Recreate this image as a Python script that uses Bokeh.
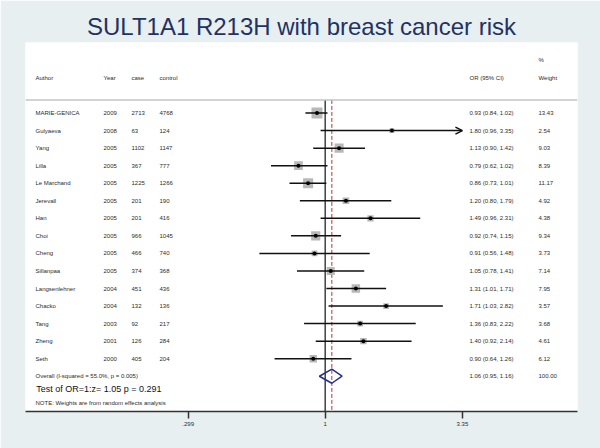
import numpy as np
from bokeh.plotting import figure
from bokeh.models import (Range1d, FixedTicker, Arrow, OpenHead, ColumnDataSource, Span,
                          LinearScale, Title)
from bokeh.core.properties import value
from bokeh.embed import file_html
from bokeh.resources import INLINE

# ---------------- data ----------------
authors = ["MARIE-GENICA", "Gulyaeva", "Yang", "Lilla", "Le Marchand", "Jerevall", "Han", "Choi",
           "Cheng", "Sillanpaa", "Langsenlehner", "Chacko", "Tang", "Zheng", "Seth"]
years = [2009, 2008, 2005, 2005, 2005, 2005, 2005, 2005, 2005, 2005, 2004, 2004, 2003, 2001, 2000]
cases = [2713, 63, 1102, 367, 1225, 201, 201, 966, 466, 374, 451, 132, 92, 126, 405]
controls = [4768, 124, 1147, 777, 1266, 190, 416, 1045, 740, 368, 436, 136, 217, 284, 204]
or_est = [0.93, 1.80, 1.13, 0.79, 0.86, 1.20, 1.49, 0.92, 0.91, 1.05, 1.31, 1.71, 1.36, 1.40, 0.90]
ci_lo = [0.84, 0.96, 0.90, 0.62, 0.73, 0.80, 0.96, 0.74, 0.56, 0.78, 1.01, 1.03, 0.83, 0.92, 0.64]
ci_hi = [1.02, 3.35, 1.42, 1.02, 1.01, 1.79, 2.31, 1.15, 1.48, 1.41, 1.71, 2.82, 2.22, 2.14, 1.26]
weights = [13.43, 2.54, 9.03, 8.39, 11.17, 4.92, 4.38, 9.34, 3.73, 7.14, 7.95, 3.57, 3.68, 4.61, 6.12]
overall_or = 1.06
overall_lo = 0.95
overall_hi = 1.16
overall_weight = 100.00
overall_label = "Overall  (I-squared = 55.0%, p = 0.005)"
test_label = "Test of OR=1:z= 1.05 p = 0.291"
note_label = "NOTE: Weights are from random effects analysis"
title_text = "SULT1A1 R213H with breast cancer risk"
tick_values = [0.299, 1, 3.35]
tick_labels = [".299", "1", "3.35"]
headers = ["Author", "Year", "case", "control", "OR (95% CI)", "Weight"]

# ---------------- style ----------------
BG = "#e8eff1"
FONT = "Liberation Sans"
TXT = "#2b2b2b"
NAVY = "#25308a"
RED = "#b2353a"

n = len(authors)
rows = list(range(n))
overall_row = n

p = figure(width=600, height=448, x_axis_type="log",
           x_range=Range1d(0.0713, 9.234), y_range=Range1d(17.01, -4.02),
           y_axis_location=None, output_backend="svg", toolbar_location=None,
           min_border_left=25, min_border_right=23, min_border_top=42, min_border_bottom=37,
           background_fill_color="white", border_fill_color=BG, outline_line_color=None)
p.grid.visible = False
p.extra_x_ranges = {"px": Range1d(25, 577)}
p.extra_x_scales = {"px": LinearScale()}

p.add_layout(Title(text=title_text, align="center", text_font=FONT, text_font_size="24px",
                   text_font_style="normal", text_color="#233264", standoff=5, offset=0), "above")

ax = p.xaxis[0]
ax.ticker = FixedTicker(ticks=tick_values, minor_ticks=[])
ax.major_label_overrides = {v: t for v, t in zip(tick_values, tick_labels)}
ax.major_tick_in = 0
ax.major_tick_out = 7
ax.major_tick_line_width = 1.5
ax.major_tick_line_color = "#333333"
ax.minor_tick_line_color = None
ax.axis_line_width = 1.5
ax.axis_line_color = "#333333"
ax.major_label_text_font_size = "6px"
ax.major_label_text_font = FONT
ax.major_label_text_color = TXT
ax.major_label_standoff = 3

# header rule
p.add_layout(Span(location=-0.75, dimension="width", line_color="#c4c4c4", line_width=1.5))

# null line and overall dashed line
p.segment(x0=[1], y0=[-0.75], x1=[1], y1=[17.5], line_color="#4a4a4a", line_width=1.6)
p.segment(x0=[overall_or], y0=[-0.75], x1=[overall_or], y1=[17.5], line_color=RED,
          line_width=1, line_dash="4 2")

# boxes
box_size = [3.0 * np.sqrt(w) for w in weights]
p.scatter(or_est, rows, marker="square", size=box_size, fill_color="#b8b8b8", line_color=None)

# CIs
axis_max = max(tick_values)
for lo, hi, r in zip(ci_lo, ci_hi, rows):
    if hi >= axis_max:
        p.add_layout(Arrow(end=OpenHead(size=7, line_width=1.5, line_color="#111111"),
                           x_start=lo, y_start=r, x_end=axis_max, y_end=r,
                           line_width=1.5, line_color="#111111"))
    else:
        p.segment(x0=[lo], y0=[r], x1=[hi], y1=[r], line_color="#111111", line_width=1.5)

p.scatter(or_est, rows, marker="circle", size=4, fill_color="black", line_color=None)

# overall diamond
p.patch(x=[overall_lo, overall_or, overall_hi, overall_or],
        y=[overall_row, overall_row - 0.4, overall_row, overall_row + 0.4],
        fill_color=None, line_color=NAVY, line_width=1.5)

# ---------------- text columns ----------------
col_x = [35, 103, 131, 159, 469, 538]

def put(xs, ys, texts, size="6px", color=TXT):
    src = ColumnDataSource(dict(x=xs, y=ys, t=texts))
    p.text(x="x", y="y", text="t", source=src, x_range_name="px",
           text_font=value(FONT), text_font_size=size, text_color=color,
           text_baseline="middle", text_align="left")

put(col_x, [-2] * len(headers), headers)
put([col_x[5]], [-3], ["%"])
put([col_x[0]] * n, rows, authors)
put([col_x[1]] * n, rows, [str(y) for y in years])
put([col_x[2]] * n, rows, [str(c) for c in cases])
put([col_x[3]] * n, rows, [str(c) for c in controls])
put([col_x[4]] * n, rows, [f"{o:.2f} ({l:.2f}, {h:.2f})" for o, l, h in zip(or_est, ci_lo, ci_hi)])
put([col_x[5]] * n, rows, [f"{w:.2f}" for w in weights])
put([col_x[0], col_x[4], col_x[5]], [overall_row] * 3,
    [overall_label, f"{overall_or:.2f} ({overall_lo:.2f}, {overall_hi:.2f})", f"{overall_weight:.2f}"])
put([35.7], [15.75], [test_label], size="9px", color="#111111")
put([col_x[0]], [16.51], [note_label])

open("out.html", "w").write(file_html(p, INLINE))
